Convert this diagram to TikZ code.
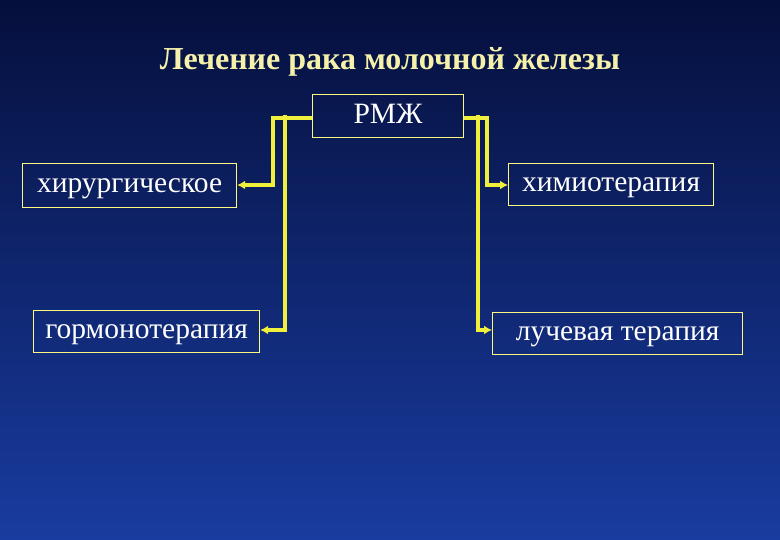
\documentclass[tikz,border=0pt]{standalone}
\usepackage{fontspec}
\setmainfont{Liberation Serif}
\usetikzlibrary{arrows.meta}
\definecolor{ylw}{RGB}{240,240,60}
\begin{document}
\begin{tikzpicture}[x=1pt,y=-1pt,
  box/.style={draw=yellow!50!white,line width=1.2pt,text=white,font=\fontsize{29.5}{32}\selectfont,inner sep=0pt,anchor=north west,text height=20pt,text depth=6pt},
  arr/.style={draw=ylw,line width=3.5pt,-{Latex[length=8pt,width=9pt]}}]
\shade[top color={rgb,255:red,5;green,15;blue,60},bottom color={rgb,255:red,25;green,60;blue,160}] (0,0) rectangle (780,540);
\useasboundingbox (0,0) rectangle (780,540);
\node[text={rgb,255:red,245;green,240;blue,170},font=\bfseries\fontsize{32}{36}\selectfont] (t) at (390,62) {Лечение рака молочной железы};
\node[box,minimum width=151pt,minimum height=43pt] (r) at (312,94) {РМЖ};
\node[box,minimum width=214pt,minimum height=44pt] (h) at (22,163) {хирургическое};
\node[box,minimum width=226pt,minimum height=42pt] (g) at (33,310) {гормонотерапия};
\node[box,minimum width=205pt,minimum height=42pt] (c) at (508,163) {химиотерапия};
\node[box,minimum width=250pt,minimum height=42pt] (l) at (492,312) {лучевая терапия};
\draw[arr] ([yshift=-2pt]r.west) -| (273,185) -- (h.east|-0,185);
\draw[arr] (285,115) -- (285,330) -- (g.east|-0,330);
\draw[arr] ([yshift=-2pt]r.east) -| (487,185) -- (c.west|-0,185);
\draw[arr] (478,115) -- (478,330) -- (l.west|-0,330);
\end{tikzpicture}
\end{document}
